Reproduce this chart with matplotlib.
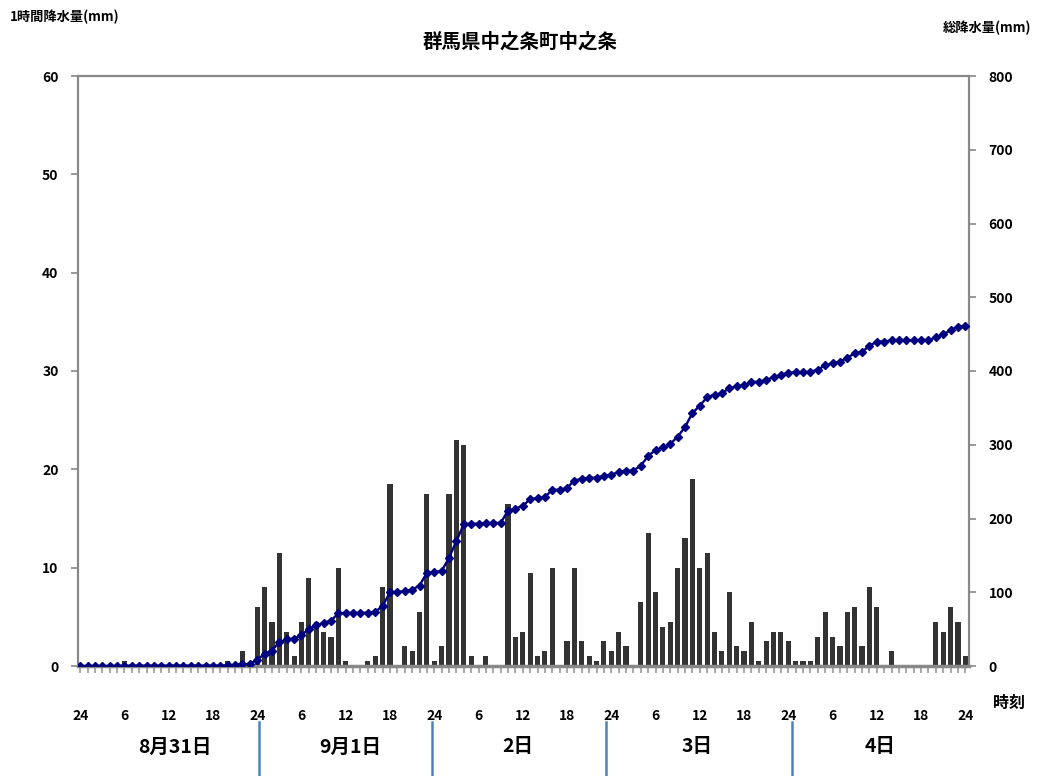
import matplotlib
matplotlib.use("Agg")
import matplotlib.pyplot as plt
from matplotlib.transforms import blended_transform_factory

plt.rcParams['font.family'] = ['Noto Sans CJK JP', 'DejaVu Sans']
plt.rcParams['font.weight'] = 'bold'

# 時刻 0..120 (8/30 24時 から 9/4 24時まで)
hours = list(range(121))

# 1時間降水量 (mm)
rain_1h = [0, 0, 0, 0, 0, 0, 0.5, 0, 0, 0, 0, 0, 0, 0, 0, 0, 0, 0, 0, 0,
           0.5, 0, 1.5, 0, 6, 8, 4.5, 11.5, 3.5, 1, 4.5, 9, 4.5, 3.5, 3, 10, 0.5, 0, 0, 0.5,
           1, 8, 18.5, 0, 2, 1.5, 5.5, 17.5, 0.5, 2, 17.5, 23, 22.5, 1, 0, 1, 0, 0, 16.5, 3,
           3.5, 9.5, 1, 1.5, 10, 0, 2.5, 10, 2.5, 1, 0.5, 2.5, 1.5, 3.5, 2, 0, 6.5, 13.5, 7.5, 4,
           4.5, 10, 13, 19, 10, 11.5, 3.5, 1.5, 7.5, 2, 1.5, 4.5, 0.5, 2.5, 3.5, 3.5, 2.5, 0.5, 0.5, 0.5,
           3, 5.5, 3, 2, 5.5, 6, 2, 8, 6, 0, 1.5, 0, 0, 0, 0, 0, 4.5, 3.5, 6, 4.5,
           1]

# 総降水量 (mm)
rain_total = [0, 0, 0, 0, 0, 0, 0.5, 0.5, 0.5, 0.5, 0.5, 0.5, 0.5, 0.5, 0.5, 0.5, 0.5, 0.5, 0.5, 0.5,
              1, 1, 2.5, 2.5, 8.5, 16.5, 21, 32.5, 36, 37, 41.5, 50.5, 55, 58.5, 61.5, 71.5, 72, 72, 72, 72.5,
              73.5, 81.5, 100, 100, 102, 103.5, 109, 126.5, 127, 129, 146.5, 169.5, 192, 193, 193, 194, 194, 194, 210.5, 213.5,
              217, 226.5, 227.5, 229, 239, 239, 241.5, 251.5, 254, 255, 255.5, 258, 259.5, 263, 265, 265, 271.5, 285, 292.5, 296.5,
              301, 311, 324, 343, 353, 364.5, 368, 369.5, 377, 379, 380.5, 385, 385.5, 388, 391.5, 395, 397.5, 398, 398.5, 399,
              402, 407.5, 410.5, 412.5, 418, 424, 426, 434, 440, 440, 441.5, 441.5, 441.5, 441.5, 441.5, 441.5, 446, 449.5, 455.5, 460,
              461]

tick_hours = list(range(0, 121, 6))
tick_labels = ['24', '6', '12', '18'] * 5 + ['24']
day_labels = ['8月31日', '9月1日', '2日', '3日', '4日']
day_label_x = [175, 350, 518, 697, 880]   # px
day_border_x = [259, 432, 606, 792]       # px

W, H = 1041, 776
fig = plt.figure(figsize=(W / 100, H / 100), dpi=100)
ax = fig.add_axes([78 / W, 1 - 666 / H, (969 - 78) / W, (666 - 76) / H])

grey = '#888888'
ax.bar(hours, rain_1h, width=0.7, color='#333333', zorder=2)
ax.set_xlim(-0.3, 120.5)
ax.set_ylim(0, 60)
ax.set_yticks(range(0, 61, 10))
ax.set_xticks(tick_hours)
ax.set_xticklabels(tick_labels)
ax.set_xticks(hours, minor=True)

for s in ax.spines.values():
    s.set_color(grey)
    s.set_linewidth(1.5)
ax.spines['bottom'].set_linewidth(2.5)

ax.tick_params(axis='y', direction='out', length=5, width=1.2, color=grey,
               labelsize=10, pad=9)
ax.tick_params(axis='x', which='both', direction='out', length=5, width=1.5,
               color='#aaaaaa', labelsize=10, pad=26)

ax2 = ax.twinx()
ax2.plot(hours, rain_total, color='#000080', lw=1.7, marker='D', markersize=3.8, zorder=3)
ax2.set_ylim(0, 800)
ax2.set_yticks(range(0, 801, 100))
ax2.tick_params(axis='y', direction='out', length=5, width=1.2, color=grey,
                labelsize=10, pad=9)
for s in ax2.spines.values():
    s.set_color(grey)
    s.set_linewidth(1.5)
ax2.spines['bottom'].set_visible(False)

for lab in ax.get_xticklabels() + ax.get_yticklabels() + ax2.get_yticklabels():
    lab.set_fontweight('bold')

fig.text(520 / W, 1 - 42 / H, '群馬県中之条町中之条', ha='center', va='center',
         fontsize=14, fontweight='bold')
fig.text(10 / W, 1 - 17 / H, '1時間降水量(mm)', ha='left', va='center',
         fontsize=9.5, fontweight='bold')
fig.text(1031 / W, 1 - 28 / H, '総降水量(mm)', ha='right', va='center',
         fontsize=9.5, fontweight='bold')
fig.text(1009 / W, 1 - 703 / H, '時刻', ha='center', va='center',
         fontsize=11.5, fontweight='bold')

for lab, x in zip(day_labels, day_label_x):
    fig.text(x / W, 1 - 747 / H, lab, ha='center', va='center',
             fontsize=14, fontweight='bold')

# 日付の区切り線
for x in day_border_x:
    fig.add_artist(plt.Line2D([x / W, x / W], [0, 1 - 722 / H], color='#4f81bd', lw=1.8))

fig.savefig('out.png', dpi=100)
